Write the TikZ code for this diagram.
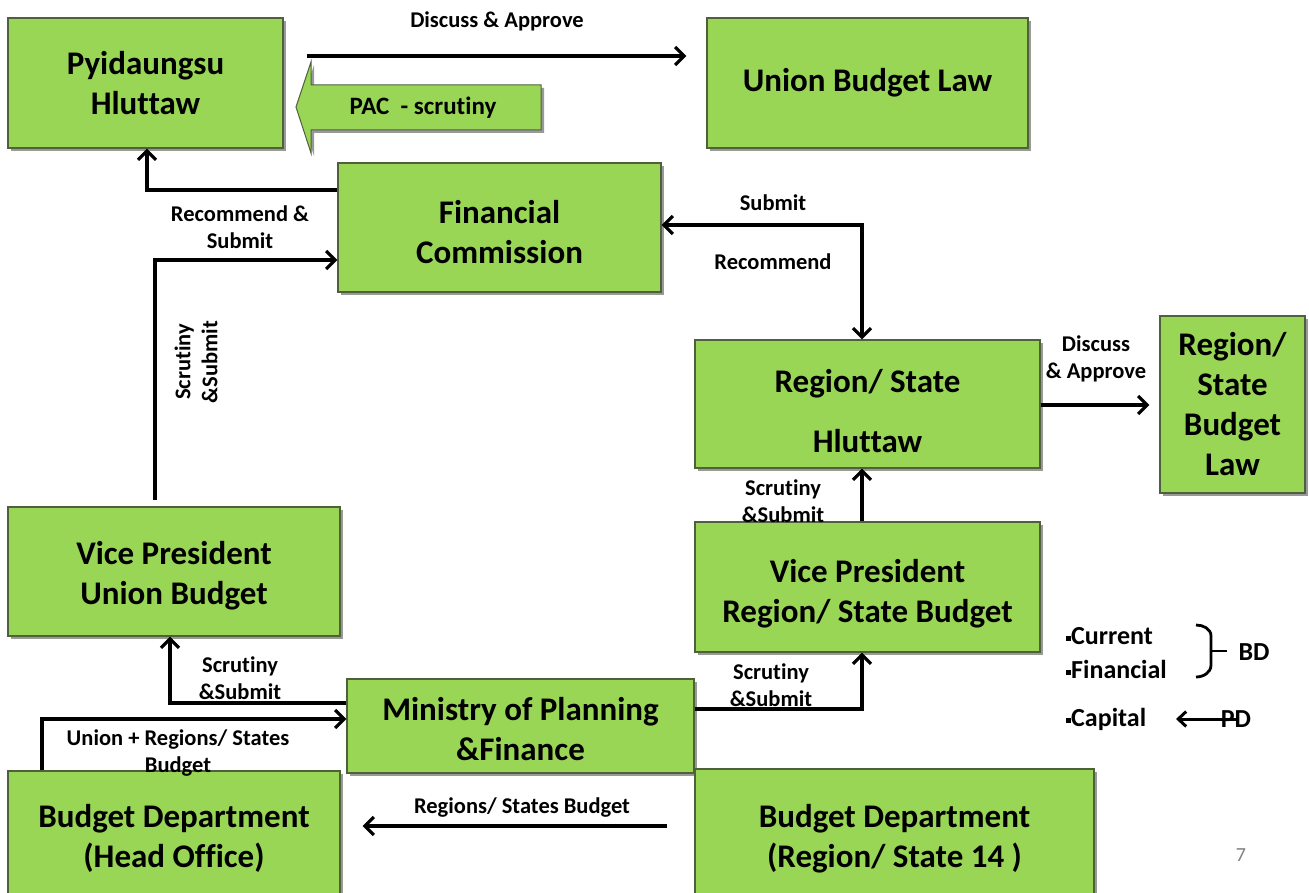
\documentclass[tikz,border=0pt]{standalone}
\usepackage{fontspec}
\setmainfont{Carlito}[Ligatures={NoCommon,NoRequired,NoContextual}]
\usetikzlibrary{arrows.meta,shadows}
\definecolor{boxgreen}{RGB}{153,214,86}
\definecolor{boxedge}{RGB}{80,96,60}
\begin{document}
\begin{tikzpicture}[x=1pt,y=-1pt,
  box/.style={draw=boxedge, line width=1.2pt, fill=boxgreen,
    drop shadow={shadow xshift=3pt, shadow yshift=-3pt, opacity=0.4, fill=black},
    align=center, inner sep=0pt, font=\fontsize{33}{40}\selectfont\bfseries},
  conn/.style={line width=3.2pt, -{Straight Barb[length=9pt,width=18pt]}},
  biconn/.style={line width=3.2pt, {Straight Barb[length=9pt,width=18pt]}-{Straight Barb[length=9pt,width=18pt]}},
  lbl/.style={font=\fontsize{22.5}{27}\selectfont\bfseries, align=center, inner sep=0pt},
  leg/.style={font=\fontsize{26}{28}\selectfont\bfseries, inner sep=0pt},
  pacshape/.style={draw=boxedge, line width=1pt, fill=boxgreen,
    drop shadow={shadow xshift=3pt, shadow yshift=-3pt, opacity=0.4, fill=black}},
]
\fill[white] (0,0) rectangle (1309,893);
\useasboundingbox (0,0) rectangle (1309,893);

% boxes
\node[box, minimum width=275pt, minimum height=130pt] (pyi) at (145.5,83) {Pyidaungsu\\Hluttaw};
\node[box, minimum width=321pt, minimum height=130pt] (ubl) at (867.5,83) {Union Budget Law};
\node[box, minimum width=323pt, minimum height=129pt] (fc) at (499.5,227.5) {\mbox{}\\[-8pt]Financial\\Commission};
\node[box, minimum width=345pt, minimum height=128pt] (rsh) at (867.5,404) {\mbox{}\\[-3pt]Region/ State\\[20pt]Hluttaw};
\node[box, minimum width=145pt, minimum height=177pt] (rsl) at (1232.5,404.5) {Region/\\State\\Budget\\Law};
\node[box, minimum width=345pt, minimum height=130pt] (vpr) at (867.5,587) {\mbox{}\\[-4pt]Vice President\\Region/ State Budget};
\node[box, minimum width=332pt, minimum height=129pt] (vpu) at (174,571.5) {\mbox{}\\[-8pt]Vice President\\Union Budget};
\node[box, minimum width=347pt, minimum height=94pt] (mopf) at (520.5,726) {\mbox{}\\[-11pt]Ministry of Planning\\\&Finance};
\node[box, minimum width=332pt, minimum height=134pt] (bdh) at (174,838) {Budget Department\\(Head Office)};
\node[box, minimum width=399pt, minimum height=134pt] (bdr) at (894.5,836) {\mbox{}\\[-11pt]Budget Department\\(Region/ State 14 )};

% PAC block arrow
\draw[pacshape] (296,107) -- (311,62) -- (311,85) -- (541,85) -- (541,130) -- (311,130) -- (311,153) -- cycle;
\node[font=\fontsize{25}{28}\selectfont\bfseries, inner sep=0pt] (pac) at (423,108) {PAC \ - scrutiny};

% connectors
\coordinate (da) at (307,56);
\draw[conn, shorten >=20pt] (da) -- (ubl.west |- da);
\draw[conn] (fc.west |- 0,190) -| (147,0 |- pyi.south);
\coordinate (vpuStart) at (155,500);
\draw[conn] (vpuStart) |- (fc.west |- 0,260);
\draw[biconn] (fc.east |- 0,225) -| (862,0 |- rsh.north);
\draw[conn, shorten >=10pt] (rsh.east |- 0,405) -- (rsl.west |- 0,405);
\draw[conn] (862,0 |- vpr.north) -- (862,0 |- rsh.south);
\draw[conn] (mopf.west |- 0,703) -| (170,0 |- vpu.south);
\coordinate (bdhStart) at (42,770);
\draw[conn] (bdhStart) |- (mopf.west |- 0,719);
\draw[conn] (mopf.east |- 0,709) -| (862,0 |- vpr.south);
\draw[conn, shorten <=27pt, shorten >=22pt] (bdr.west |- 0,826) -- (bdh.east |- 0,826);

% labels
\node[lbl] (l1) at (497,21) {Discuss \& Approve};
\node[lbl] (l2) at (240,227) {Recommend \&\\Submit};
\node[lbl, rotate=90] (l3) at (196,362) {Scrutiny\\\&Submit};
\node[lbl] (l4) at (773,203) {Submit};
\node[lbl] (l5) at (773,262) {Recommend};
\node[lbl] (l6) at (1096,359) {Discuss\\\& Approve};
\node[lbl] (l7) at (783,501) {Scrutiny\\\&Submit};
\node[lbl] (l8) at (240,678) {Scrutiny\\\&Submit};
\node[lbl] (l9) at (178,753) {Union + Regions/ States\\Budget};
\node[lbl] (l10) at (771,685) {Scrutiny\\\&Submit};
\node[lbl] (l11) at (522,808) {Regions/ States Budget};

% legend
\node[leg, anchor=west] (cur) at (1066,636) {\rule[0.28ex]{5pt}{5pt}Current};
\node[leg, anchor=west] (fin) at (1066,669) {\rule[0.28ex]{5pt}{5pt}Financial};
\node[leg, anchor=west] (cap) at (1066,719) {\rule[0.28ex]{5pt}{5pt}Capital};
\node[leg] (bd) at (1254,652) {BD};
\node[leg] (pd) at (1236,719) {PD};
\draw[line width=2.8pt] (1196,625) to[out=0,in=90] (1211,636) -- (1211,665) to[out=-90,in=0] (1196,677);
\draw[line width=2.8pt] (1211,651) -- (1227,651);
\draw[line width=3pt, -{Straight Barb[length=8pt,width=15pt]}] (pd.center) -- (1176,0 |- pd.center);

\node[font=\fontsize{20}{24}\selectfont, text=gray, inner sep=0pt] (pg) at (1241,855) {7};
\end{tikzpicture}
\end{document}
